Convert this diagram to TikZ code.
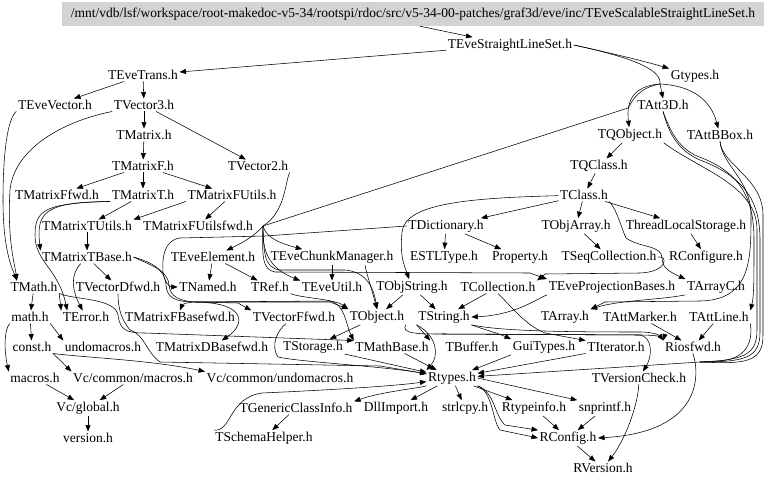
\documentclass[tikz,border=0pt]{standalone}
\usepackage{fontspec}
\setmainfont{Liberation Serif}
\usetikzlibrary{arrows.meta}
\definecolor{boxgray}{RGB}{211,211,211}
\begin{document}
\begin{tikzpicture}[x=1pt,y=-1pt,
  n/.style={inner sep=1.5pt, font=\fontsize{13.5}{14}\selectfont},
  ln/.style={draw=black, line width=0.55pt},
  e/.style={ln, -{Triangle[length=6.5pt,width=5pt]}}]
\useasboundingbox (0,0) rectangle (768,484);
\node[n, fill=boxgray, minimum width=702pt, minimum height=24pt, inner sep=0pt] (top) at (413,14) {/mnt/vdb/lsf/workspace/root-makedoc-v5-34/rootspi/rdoc/src/v5-34-00-patches/graf3d/eve/inc/TEveScalableStraightLineSet.h};
\node[n] (sls) at (510,45) {TEveStraightLineSet.h};
\node[n] (trans) at (143,75) {TEveTrans.h};
\node[n] (gty) at (695,76) {Gtypes.h};
\node[n] (evec) at (55,105) {TEveVector.h};
\node[n] (v3) at (144,105) {TVector3.h};
\node[n] (att3d) at (663,105) {TAtt3D.h};
\node[n] (mat) at (144,135) {TMatrix.h};
\node[n] (qobj) at (630,135) {TQObject.h};
\node[n] (bbox) at (720,135) {TAttBBox.h};
\node[n] (matf) at (143,166) {TMatrixF.h};
\node[n] (v2) at (258,166) {TVector2.h};
\node[n] (qcl) at (599,166) {TQClass.h};
\node[n] (mffwd) at (57,195) {TMatrixFfwd.h};
\node[n] (mt) at (143,195) {TMatrixT.h};
\node[n] (mfu) at (232,195) {TMatrixFUtils.h};
\node[n] (cls) at (584,195) {TClass.h};
\node[n] (mtu) at (87,226) {TMatrixTUtils.h};
\node[n] (mfuf) at (198,226) {TMatrixFUtilsfwd.h};
\node[n] (dict) at (446,226) {TDictionary.h};
\node[n] (oarr) at (576,226) {TObjArray.h};
\node[n] (tls) at (686,226) {ThreadLocalStorage.h};
\node[n] (mtb) at (87,257) {TMatrixTBase.h};
\node[n] (eel) at (213,257) {TEveElement.h};
\node[n] (ecm) at (332,257) {TEveChunkManager.h};
\node[n] (estl) at (444,257) {ESTLType.h};
\node[n] (prop) at (520,257) {Property.h};
\node[n] (seq) at (609,257) {TSeqCollection.h};
\node[n] (rconf) at (706,257) {RConfigure.h};
\node[n] (tmath) at (34,287) {TMath.h};
\node[n] (vdf) at (118,287) {TVectorDfwd.h};
\node[n] (named) at (208,287) {TNamed.h};
\node[n] (tref) at (270,287) {TRef.h};
\node[n] (eutil) at (332,287) {TEveUtil.h};
\node[n] (ostr) at (412,287) {TObjString.h};
\node[n] (coll) at (498,287) {TCollection.h};
\node[n] (epb) at (612,287) {TEveProjectionBases.h};
\node[n] (arrc) at (716,287) {TArrayC.h};
\node[n] (mathh) at (30,317) {math.h};
\node[n] (terr) at (86,317) {TError.h};
\node[n] (mfbf) at (180,317) {TMatrixFBasefwd.h};
\node[n] (vff) at (294,317) {TVectorFfwd.h};
\node[n] (tobj) at (377,317) {TObject.h};
\node[n] (tstr) at (444,317) {TString.h};
\node[n] (tarr) at (565,317) {TArray.h};
\node[n] (amark) at (640,317) {TAttMarker.h};
\node[n] (aline) at (719,317) {TAttLine.h};
\node[n] (consth) at (32,347) {const.h};
\node[n] (undom) at (103,347) {undomacros.h};
\node[n] (mdbf) at (212,347) {TMatrixDBasefwd.h};
\node[n] (stor) at (313,347) {TStorage.h};
\node[n] (mbase) at (392,347) {TMathBase.h};
\node[n] (buf) at (472,347) {TBuffer.h};
\node[n] (gui) at (544,347) {GuiTypes.h};
\node[n] (iter) at (616,347) {TIterator.h};
\node[n] (rios) at (693,347) {Riosfwd.h};
\node[n] (macr) at (35,378) {macros.h};
\node[n] (vcm) at (133,378) {Vc/common/macros.h};
\node[n] (vcu) at (280,378) {Vc/common/undomacros.h};
\node[n] (rtyp) at (452,378) {Rtypes.h};
\node[n] (vchk) at (639,378) {TVersionCheck.h};
\node[n] (vcg) at (88,408) {Vc/global.h};
\node[n] (gci) at (296,408) {TGenericClassInfo.h};
\node[n] (dll) at (396,408) {DllImport.h};
\node[n] (strl) at (465,408) {strlcpy.h};
\node[n] (rti) at (534,408) {Rtypeinfo.h};
\node[n] (snp) at (605,408) {snprintf.h};
\node[n] (vers) at (88,438) {version.h};
\node[n] (schema) at (264,438) {TSchemaHelper.h};
\node[n] (rcfg) at (568,438) {RConfig.h};
\node[n] (rver) at (603,468) {RVersion.h};

% junctions
\coordinate (jA) at (660,84);
\coordinate (jB) at (263,226);
\coordinate (jC) at (196,302);
\coordinate (jD) at (700,362);
\coordinate (jE) at (442,334);

% top
\draw[e] ([xshift=7pt]top.south) -- (sls);
\draw[e] (sls) -- (trans);
\draw[e] (sls.east) .. controls (610,53) and (640,60) .. (gty);
\draw[ln] (sls.east) .. controls (625,56) and (662,68) .. (jA);
\draw[e] (jA) -- (att3d.north);
\draw[e] (jA) .. controls (698,86) and (712,105) .. (bbox);
\draw[e] (jA) .. controls (634,86) and (626,100) .. (qobj);
\draw[ln] (jA) .. controls (638,88) and (633,100) .. (628,108) -- (jB);
\draw[e] (jB) .. controls (256,234) and (248,240) .. (eel);
\draw[e] (jB) .. controls (266,236) and (275,242) .. (ecm);
\draw[e] (jB) .. controls (262,250) and (268,268) .. (eutil.north west);
\draw[e] (jB) .. controls (262,255) and (262,270) .. (275,272) -- (530,273) -- (epb.north west);
\draw[ln] (v2.south east) .. controls (285,180) and (286,212) .. (jB);
\draw[e] (jB) .. controls (264,250) and (263,268) .. (280,270) -- (345,270) .. controls (368,272) and (374,290) .. (tobj.north);

% left chain
\draw[e] (trans) -- (evec);
\draw[e] (trans) -- (v3);
\draw[e] (v3) -- (mat);
\draw[e] (v3) -- (v2);
\draw[e] (mat) -- (matf);
\draw[e] (matf) -- (mffwd);
\draw[e] (matf) -- (mt);
\draw[e] (matf) -- (mfu);
\draw[e] (mt) -- (mtu);
\draw[e] (mfu.south west) -- (mtu.north east);
\draw[e] (mfu) -- (mfuf);
\draw[e] (mtu) -- (mtb);
\draw[e] (mt.south west) .. controls (45,202) and (36,212) .. (mtb.north west);
\draw[e] (mt.south west) .. controls (45,203) and (35,210) .. (35,235) .. controls (35,262) and (58,268) .. ([xshift=6pt]terr.north west);
\draw[e] (evec.south west) .. controls (8,118) and (3,150) .. (3,200) .. controls (3,250) and (12,268) .. ([xshift=8pt]tmath.north west);
\draw[e] (v3.south west) .. controls (60,122) and (14,150) .. (10,190) .. controls (7,240) and (15,265) .. ([xshift=8pt]tmath.north west);
\draw[e] (tmath) -- (mathh);
\draw[e] (tmath.south east) -- (terr.north west);
\draw[e] (mtb) .. controls (70,275) and (72,290) .. (terr);
\draw[e] (mtb) -- (vdf);
\draw[e] (mathh) -- (consth);
\draw[e] (mathh.south east) -- (undom.north west);
\draw[e] (mathh.south west) .. controls (4,330) and (4,350) .. (macr.north west);
\draw[e] (consth.south east) -- (vcm.north west);
\draw[e] (consth.south east) .. controls (90,358) and (150,360) .. (vcu.north west);
\draw[e] (macr) -- (vcg);
\draw[e] (vcm) -- (vcg);
\draw[e] (vcg) -- (vers);

% TMatrixTBase bundle
\draw[ln] (mtb.east) .. controls (150,262) and (165,268) .. (166,285) .. controls (167,298) and (175,302) .. (jC);
\draw[ln] (mtb.east) .. controls (150,265) and (168,270) .. (169,285) .. controls (170,296) and (178,301) .. (jC);
\draw[e] (jC) -- (330,302) -- (tobj.north west);
\draw[e] (jC) .. controls (186,302) and (182,305) .. (mfbf.north);
\draw[e] (jC) -- (238,303) -- (vff.north west);
\draw[e] (jC) .. controls (248,303) and (245,325) .. (mdbf);
\draw[e] (jC) -- (330,301) .. controls (345,304) and (346,325) .. (mbase.north west);
\draw[e] (tmath.south east) .. controls (75,300) and (115,298) .. (118,315) .. controls (120,330) and (126,333) .. (145,333) -- (mbase.north west);
\draw[e] (vdf.south) .. controls (118,310) and (122,320) .. (130,330) .. controls (145,335) and (146,352) .. (160,362) -- (380,366) -- (rtyp);

% TEve stuff and middle
\draw[e] (eel) -- (named);
\draw[e] (eel) -- (tref);
\draw[e] (ecm) -- (eutil);
\draw[e] ([xshift=-30pt]ecm.south east) .. controls (366,272) and (372,290) .. (tobj.north);
\draw[e] (tref.south east) .. controls (300,298) and (335,299) .. (tobj.north west);
\draw[e] (ostr) -- (tobj);
\draw[e] (ostr) -- (tstr);
\draw[e] (coll) -- (tstr);
\draw[e] (coll.south) .. controls (510,305) and (525,325) .. (545,333) -- (iter.north west);
\draw[e] (epb.south west) .. controls (535,300) and (515,315) .. (tstr.east);
\draw[e] (cls) .. controls (470,198) and (405,203) .. (402,232) .. controls (400,255) and (403,262) .. (ostr);
\draw[e] (cls) -- (dict);
\draw[e] (cls) -- (oarr);
\draw[e] (cls) -- (tls);
\draw[e] (dict) -- (estl);
\draw[e] (dict) -- (prop);
\draw[e] (oarr) -- (seq);
\draw[e] (tls) -- (rconf);
\draw[e] (qobj) -- (qcl);
\draw[e] (qcl) -- (cls);
\draw[e] (dict.west) -- (265,236) -- (180,238) .. controls (164,240) and (162,258) .. (163,272) .. controls (164,282) and (170,287) .. (named.west);
\draw[e] (seq.east) .. controls (668,255) and (668,272) .. (640,273) -- (545,274) -- (coll.north east);
\draw[e] (cls.south east) .. controls (618,212) and (622,230) .. (626,238) .. controls (640,248) and (662,245) .. (662,258) .. controls (662,268) and (670,272) .. (arrc.north west);

% right trunk
\draw[ln] (att3d.south) .. controls (668,130) and (676,150) .. (700,160) .. controls (748,178) and (760,205) .. (760,240) -- (760,332) .. controls (760,358) and (745,362) .. (jD);
\draw[ln] (qobj.south east) .. controls (700,170) and (757,185) .. (757,230) -- (757,330) .. controls (757,356) and (742,360) .. (jD);
\draw[ln] (bbox.south) .. controls (722,165) and (763,178) .. (763,215) -- (763,335) .. controls (763,363) and (745,364) .. (jD);
\draw[ln] (aline.south east) .. controls (752,335) and (752,358) .. (720,361) -- (jD);
\draw[e] (jD) -- (rtyp);
\draw[e] (att3d.south) .. controls (670,130) and (678,150) .. (702,158) .. controls (745,175) and (754,205) .. (754,240) .. controls (754,280) and (754,296) .. (aline.north east);
\draw[e] (bbox.south) .. controls (722,165) and (751,180) .. (751,215) .. controls (751,260) and (751,300) .. (700,301) -- (605,302) -- (tarr.north east);
\draw[e] (arrc.south west) .. controls (660,300) and (620,300) .. (tarr.north east);
\draw[e] (amark) -- (rios);
\draw[e] (aline) -- (rios);

% row 333
\draw[e] (tobj) -- (stor);
\draw[e] (tstr.south west) -- (mbase.north east);
\draw[e] (tstr.south west) .. controls (436,335) and (440,355) .. (rtyp.north west);
\draw[e] (tstr.south east) .. controls (485,330) and (495,332) .. (gui.north west);
\draw[e] (tstr.south east) .. controls (500,331) and (560,332) .. (640,332) .. controls (655,332) and (660,336) .. (rios.north west);
\draw[ln] (tobj.south east) .. controls (400,334) and (420,334) .. (jE);
\draw[e] (jE) -- (640,335) .. controls (652,337) and (653,355) .. (vchk);
\draw[e] (jE) -- (640,335) .. controls (658,335) and (664,338) .. (rios.north west);

% bottom
\draw[e] (mbase) -- (rtyp);
\draw[e] (stor) -- (rtyp);
\draw[e] (vff) .. controls (278,330) and (270,345) .. (278,357) .. controls (300,362) and (380,366) .. (rtyp);
\draw[e] (gui.south west) -- (rtyp);
\draw[e] (iter.south west) -- (rtyp);
\draw[e] (rtyp) -- (dll);
\draw[e] (rtyp) -- (strl);
\draw[e] (rtyp) -- (rti);
\draw[e] (rtyp.east) -- (snp.north west);
\draw[e] (rtyp.south east) .. controls (495,392) and (494,415) .. (505,425) -- (rcfg.north west);
\draw[e] (rtyp.south east) .. controls (493,392) and (492,420) .. (500,430) -- (rcfg.west);
\draw[e] (rti) -- (rcfg);
\draw[e] (snp) -- (rcfg);
\draw[e] (rios.south) .. controls (700,375) and (702,432) .. (rcfg.east);
\draw[e] (vchk) .. controls (638,405) and (625,440) .. (rver);
\draw[e] (rcfg) -- (rver);
\draw[e] (rtyp.south west) .. controls (420,388) and (380,392) .. (gci.north east);
\draw[e] (gci) -- (schema);
\draw[e] (schema.north west) .. controls (232,432) and (228,398) .. (262,393) .. controls (330,390) and (395,386) .. (rtyp);
\end{tikzpicture}
\end{document}
